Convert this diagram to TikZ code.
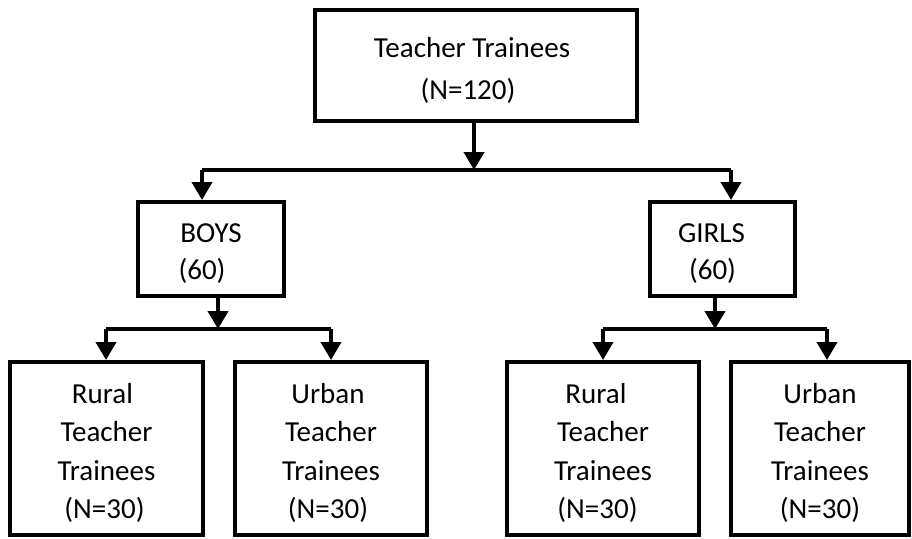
\documentclass[tikz,border=0pt]{standalone}
\usepackage{fontspec}
\setmainfont{Carlito}
\usetikzlibrary{arrows.meta}

\newcommand{\lift}[1]{\rule{0pt}{#1}}

\tikzset{
  box/.style={draw, line width=4pt, rectangle, inner sep=0pt, align=center,
    font=\fontsize{29}{38.5}\selectfont},
  link/.style={line width=4pt},
  arr/.style={link, -{Triangle[width=20pt,length=18pt]}}
}

\begin{document}
\begin{tikzpicture}[x=1pt,y=-1pt]
  \useasboundingbox (0,0) rectangle (912,538);

  % root
  \node[box, font=\fontsize{29}{42}\selectfont,
        minimum width=322pt, minimum height=111pt] (root) at (476,65.5)
    {\lift{31pt}Teacher Trainees\hspace*{8pt}\\(N=120)\hspace*{16pt}};

  % gender level
  \node[box, font=\fontsize{29}{37}\selectfont,
        minimum width=146pt, minimum height=94pt] (boys) at (211,249)
    {\lift{28pt}BOYS\\(60)\hspace*{18pt}};
  \node[box, font=\fontsize{29}{37}\selectfont,
        minimum width=145pt, minimum height=94pt] (girls) at (722.5,249)
    {\lift{28pt}GIRLS\hspace*{22pt}\\(60)\hspace*{20pt}};

  % locality level
  \node[box, minimum width=193pt, minimum height=173pt] (brural) at (106.5,448.5)
    {\lift{29pt}Rural\hspace*{8pt}\\Teacher\hspace*{8pt}\\Trainees\\(N=30)\hspace*{4pt}};
  \node[box, minimum width=192pt, minimum height=173pt] (burban) at (331,448.5)
    {\lift{29pt}Urban\hspace*{6pt}\\Teacher\hspace*{8pt}\\Trainees\\(N=30)\hspace*{6pt}};
  \node[box, minimum width=192pt, minimum height=173pt] (grural) at (603,448.5)
    {\lift{29pt}Rural\hspace*{14pt}\\Teacher\hspace*{16pt}\\Trainees\hspace*{2pt}\\(N=30)\hspace*{11pt}};
  \node[box, minimum width=178pt, minimum height=173pt] (gurban) at (820,448.5)
    {\lift{29pt}Urban\\Teacher\\Trainees\\(N=30)};

  % junction points
  \coordinate (j0) at (474,170);
  \coordinate (jb) at (202,170);
  \coordinate (jg) at (731,170);
  \coordinate (k0) at (218,329);
  \coordinate (kbl) at (106,329);
  \coordinate (kbr) at (331,329);
  \coordinate (m0) at (715,329);
  \coordinate (kgl) at (603,329);
  \coordinate (kgr) at (827,329);

  % root to gender
  \draw[arr] (root.south -| j0) -- (j0);
  \draw[link] (jb) -- (jg);
  \draw[arr] (jb) -- (jb |- boys.north);
  \draw[arr] (jg) -- (jg |- girls.north);

  % boys to locality
  \draw[arr] (boys.south -| k0) -- (k0);
  \draw[link] (kbl) -- (kbr);
  \draw[arr] (kbl) -- (kbl |- brural.north);
  \draw[arr] (kbr) -- (kbr |- burban.north);

  % girls to locality
  \draw[arr] (girls.south -| m0) -- (m0);
  \draw[link] (kgl) -- (kgr);
  \draw[arr] (kgl) -- (kgl |- grural.north);
  \draw[arr] (kgr) -- (kgr |- gurban.north);
\end{tikzpicture}
\end{document}
